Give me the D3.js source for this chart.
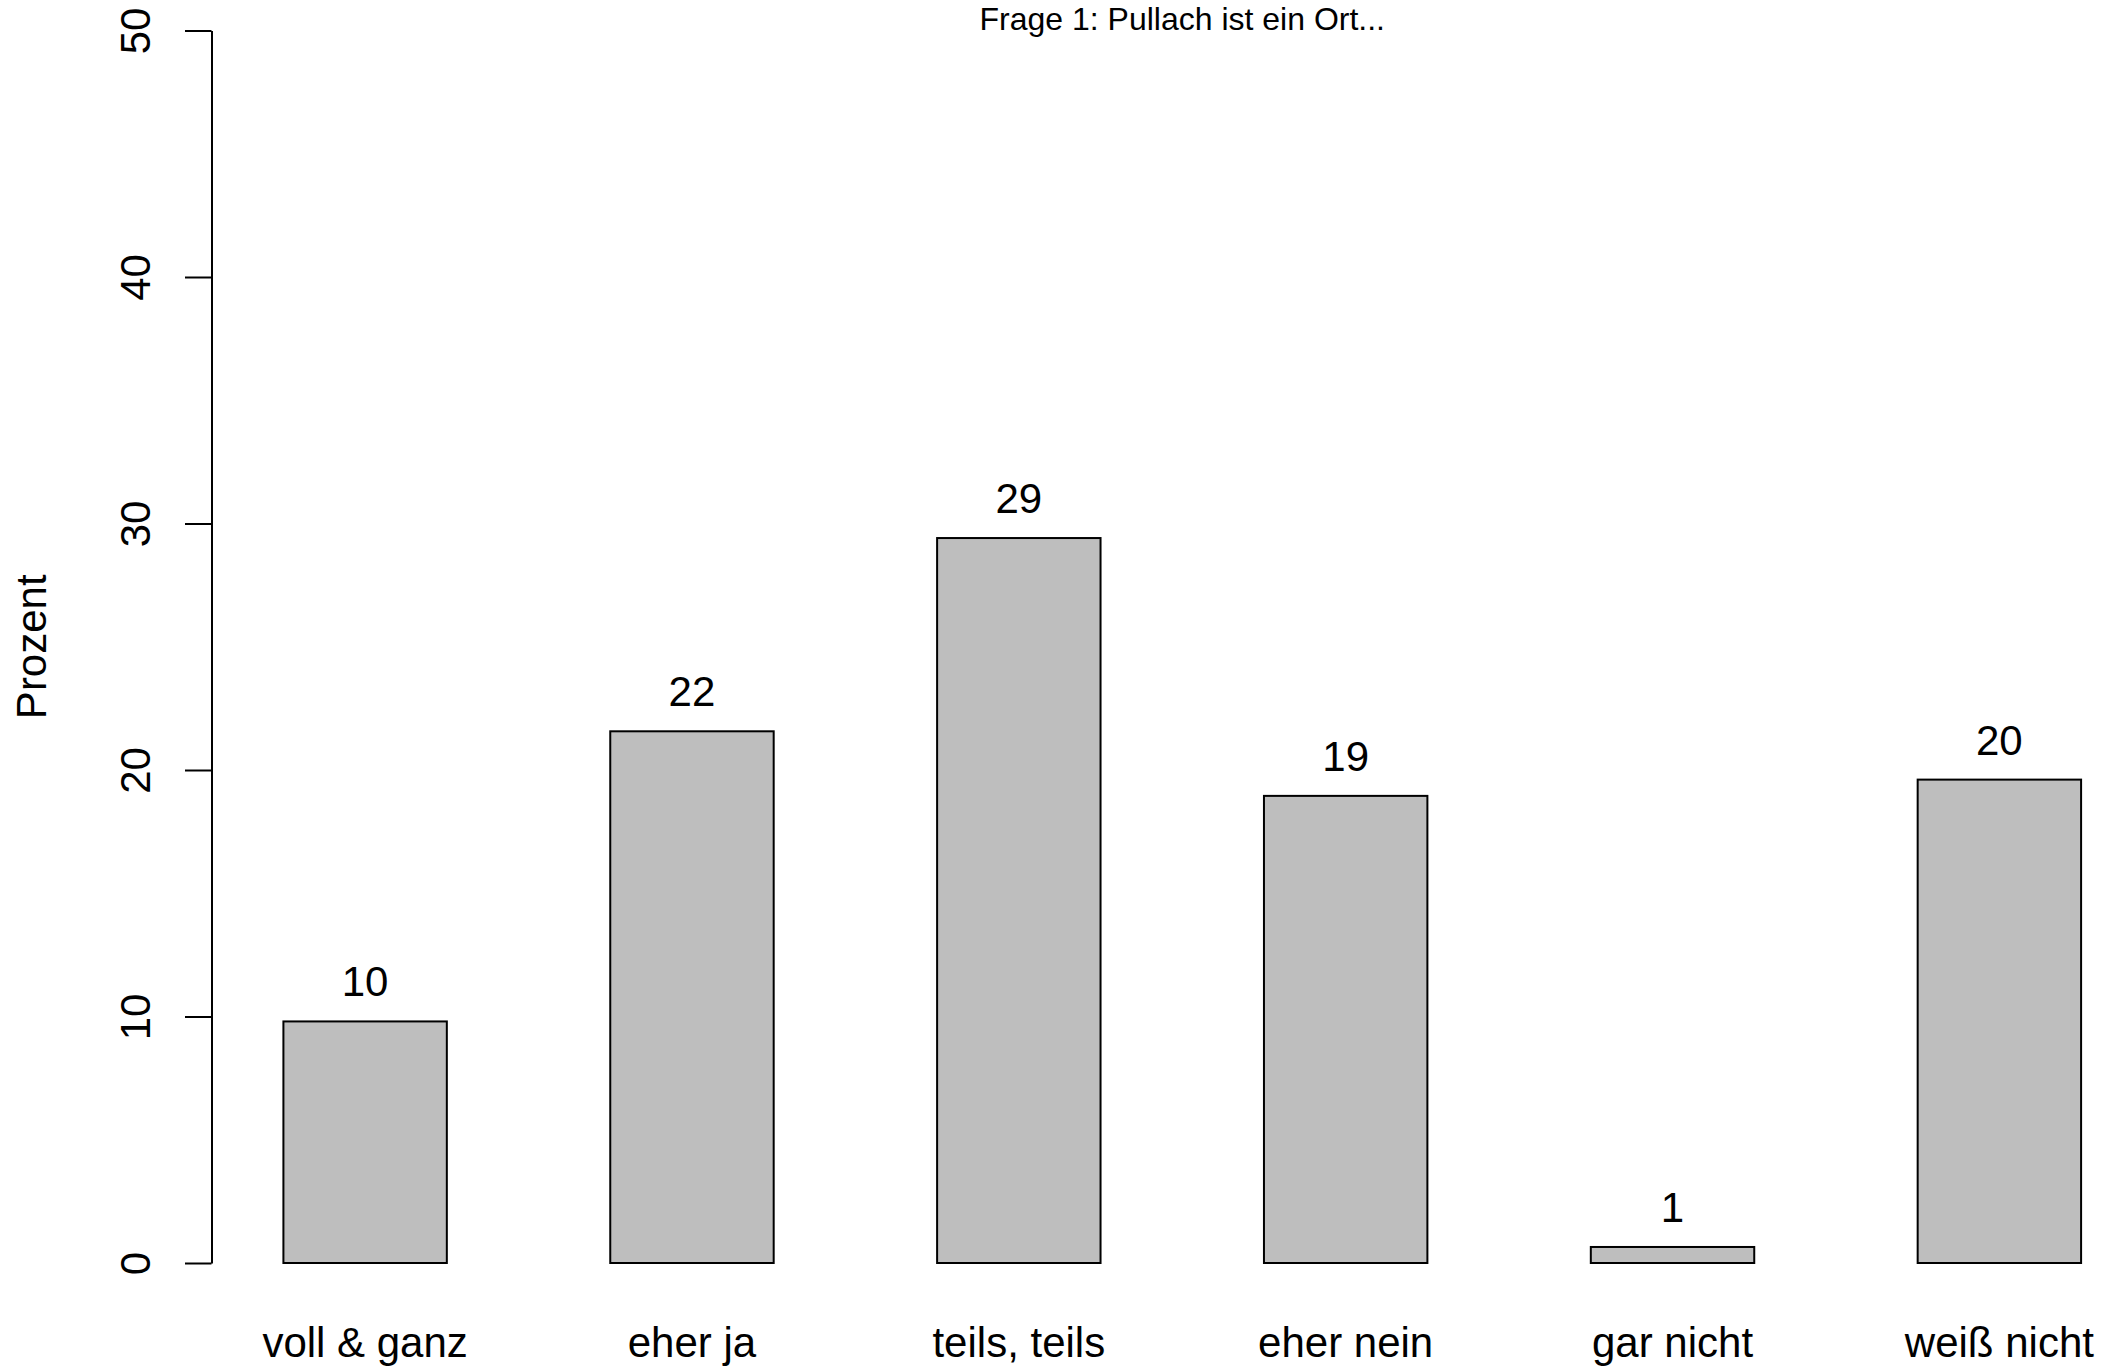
<!DOCTYPE html>
<html>
<head>
<meta charset="utf-8">
<script src="https://cdn.jsdelivr.net/npm/d3@7"></script>
<style>
  html, body { margin: 0; padding: 0; background: #fff; }
  svg { display: block; font-family: "Liberation Sans", Arial, Helvetica, sans-serif; }
</style>
</head>
<body>
<svg id="chart" width="2125" height="1368"></svg>
<script>
// ---- data ----
const categories = ["voll & ganz", "eher ja", "teils, teils", "eher nein", "gar nicht", "weiß nicht"];
const percents = [9.80, 21.57, 29.41, 18.95, 0.65, 19.61];
const valueLabels = ["10", "22", "29", "19", "1", "20"];
const yTicks = [0, 10, 20, 30, 40, 50];
const titleText = "Frage 1: Pullach ist ein Ort...";
const yLabelText = "Prozent";

// ---- layout ----
const W = 2125, H = 1368;
const svg = d3.select("#chart");

// R barplot-like coordinates: bars of width 1, space 1 -> lefts at 1,3,5,...
const barLeft = categories.map((_, i) => 1 + 2 * i);
const x = d3.scaleLinear().domain([0.56, 12.44]).range([211.5, 2153]);
const y = d3.scaleLinear().domain([0, 50]).range([1263, 30.5]);

// bars
svg.append("g").selectAll("rect")
  .data(percents)
  .join("rect")
  .attr("x", (d, i) => x(barLeft[i]))
  .attr("width", (d, i) => x(barLeft[i] + 1) - x(barLeft[i]))
  .attr("y", d => y(d))
  .attr("height", d => y(0) - y(d))
  .attr("fill", "#bebebe")
  .attr("stroke", "#000")
  .attr("stroke-width", 2);

// value labels
svg.append("g").selectAll("text")
  .data(percents)
  .join("text")
  .attr("x", (d, i) => x(barLeft[i] + 0.5))
  .attr("y", d => y(d) - 25)
  .attr("text-anchor", "middle")
  .attr("font-size", 42)
  .attr("fill", "#000")
  .text((d, i) => valueLabels[i]);

// category labels
svg.append("g").selectAll("text")
  .data(categories)
  .join("text")
  .attr("x", (d, i) => x(barLeft[i] + 0.5))
  .attr("y", 1357)
  .attr("text-anchor", "middle")
  .attr("font-size", 42)
  .attr("fill", "#000")
  .text(d => d);

// y axis
const yAxis = d3.axisLeft(y).tickValues(yTicks).tickSize(26.5).tickSizeOuter(0).tickFormat(d3.format("d"));
const gy = svg.append("g").attr("transform", `translate(${x(0.56)},0)`).call(yAxis);
gy.select(".domain").attr("stroke", "#000").attr("stroke-width", 2);
gy.selectAll(".tick line").attr("stroke", "#000").attr("stroke-width", 2);
gy.selectAll(".tick text")
  .attr("font-family", "Liberation Sans, Arial, sans-serif")
  .attr("font-size", 42)
  .attr("fill", "#000")
  .attr("transform", "rotate(-90)")
  .attr("x", 0)
  .attr("y", -61.5)
  .attr("dy", null)
  .attr("text-anchor", "middle");

// y label
svg.append("text")
  .attr("transform", `translate(46, ${(y(0) + y(50)) / 2}) rotate(-90)`)
  .attr("text-anchor", "middle")
  .attr("font-size", 42)
  .attr("fill", "#000")
  .text(yLabelText);

// title
svg.append("text")
  .attr("x", (x(0.56) + x(12.44)) / 2)
  .attr("y", 30)
  .attr("text-anchor", "middle")
  .attr("font-size", 32)
  .attr("fill", "#000")
  .text(titleText);
</script>
</body>
</html>
